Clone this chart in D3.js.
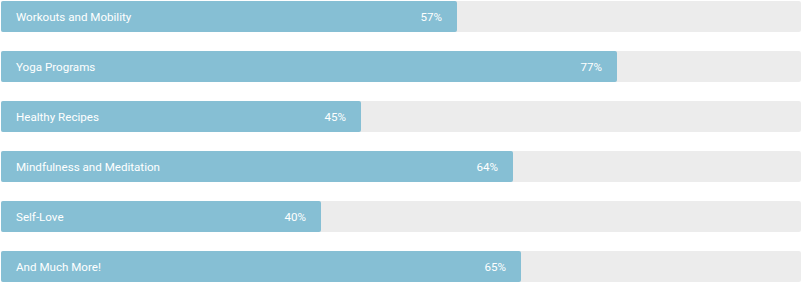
<!DOCTYPE html>
<html>
<head>
<meta charset="utf-8">
<script src="https://cdn.jsdelivr.net/npm/d3@7"></script>
<style>
body { margin: 0; background: #fff; }
svg { display: block; }
svg text { font-family: Roboto, "Helvetica Neue", "Liberation Sans", sans-serif; font-size: 11.6px; fill: #fff; }
</style>
</head>
<body>
<svg id="chart"></svg>
<script>
// skill categories and their percentages
var labels = ["Workouts and Mobility", "Yoga Programs", "Healthy Recipes",
              "Mindfulness and Meditation", "Self-Love", "And Much More!"];
var values = [57, 77, 45, 64, 40, 65];

var width = 802, height = 283;
var svg = d3.select("#chart").attr("width", width).attr("height", height);

var x = d3.scaleLinear().domain([0, 100]).range([1, 801]);
// step 50px, bar 31px tall
var y = d3.scaleBand().domain(labels).range([1, 282]).paddingInner(0.38).paddingOuter(0);

var rows = svg.selectAll("g.row")
    .data(labels.map(function(d, i) { return {label: d, value: values[i]}; }))
    .enter().append("g")
    .attr("class", "row")
    .attr("transform", function(d) { return "translate(0," + y(d.label) + ")"; });

// grey track
rows.append("rect")
    .attr("x", x(0))
    .attr("width", x(100) - x(0))
    .attr("height", y.bandwidth())
    .attr("rx", 2)
    .style("fill", "#ececec");

// blue bar
rows.append("rect")
    .attr("x", x(0))
    .attr("width", function(d) { return x(d.value) - x(0); })
    .attr("height", y.bandwidth())
    .attr("rx", 2)
    .style("fill", "#86bfd4");

rows.append("text")
    .attr("x", x(0) + 15)
    .attr("y", y.bandwidth() / 2)
    .attr("dy", "0.35em")
    .text(function(d) { return d.label; });

rows.append("text")
    .attr("x", function(d) { return x(d.value) - 15; })
    .attr("y", y.bandwidth() / 2)
    .attr("dy", "0.35em")
    .attr("text-anchor", "end")
    .text(function(d) { return d.value + "%"; });
</script>
</body>
</html>
